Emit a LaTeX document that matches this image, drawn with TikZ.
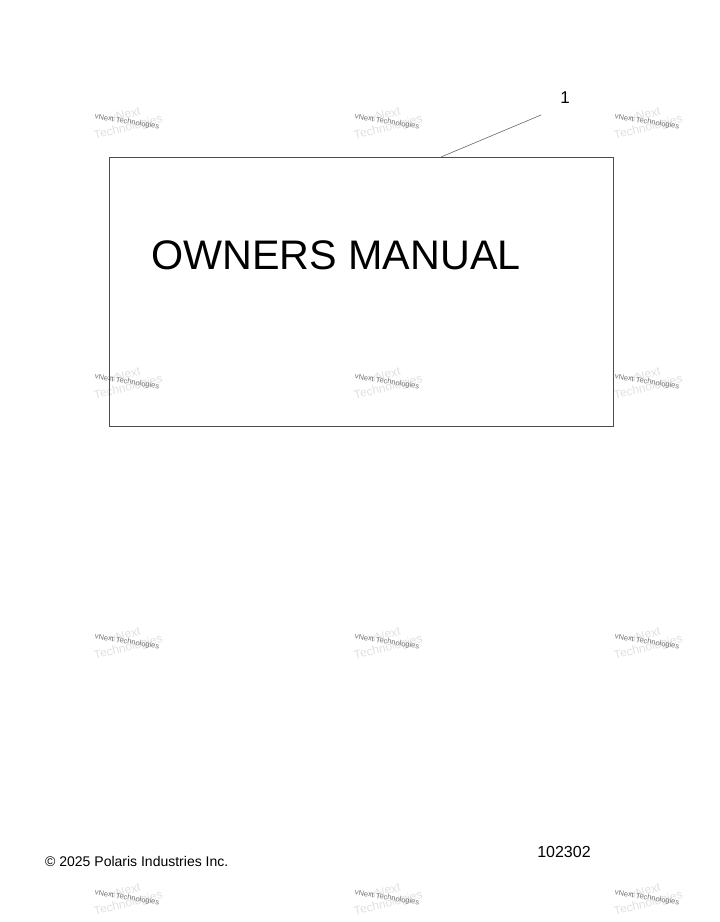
\documentclass[tikz,border=0pt]{standalone}
\usepackage{fontspec}
\setmainfont{Liberation Sans}
\usetikzlibrary{positioning}

\tikzset{
  manual box/.style={draw=black!70, line width=0.6pt},
  leader line/.style={draw=black!60, line width=0.6pt},
  callout/.style={font=\fontsize{17}{17}\selectfont, inner sep=0pt},
  title text/.style={font=\fontsize{41.3}{41}\selectfont, inner sep=0pt, anchor=base},
  footer text/.style={font=\fontsize{14}{14}\selectfont, inner sep=0pt},
  mark text/.style={font=\fontsize{7.5}{7.5}\selectfont, text=black!55, rotate=-9, inner sep=0pt},
  mark shadow/.style={font=\fontsize{12}{12.5}\selectfont, text=black!12, rotate=14, align=center, inner sep=0pt}
}

\begin{document}
\begin{tikzpicture}[x=1pt, y=-1pt]
  \useasboundingbox (0,0) rectangle (720,922);

  % watermark grid
  \foreach \wx [count=\i] in {127, 387, 647}
    \foreach \wy [count=\j] in {122, 382, 642, 898} {
      \node [mark shadow] (shadow-\i-\j) at (\wx, \wy) {vNext\\Technologies};
      \node [mark text] (mark-\i-\j) at (\wx, \wy) {vNext Technologies};
    }

  % manual
  \draw [manual box] (109,157) rectangle (613,426);
  \node [title text] (title) at (336,269) {OWNERS MANUAL};

  % callout
  \coordinate (leader-end) at (441,157);
  \node [callout] (callout-1) at (565,98) {1};
  \draw [leader line] (leader-end) -- (541,115);

  % footer
  \node [footer text, anchor=west] (copyright) at (45,861) {© 2025 Polaris Industries Inc.};
  \node [footer text, font=\fontsize{16}{16}\selectfont] (ref-number) at (564,852) {102302};
\end{tikzpicture}
\end{document}
